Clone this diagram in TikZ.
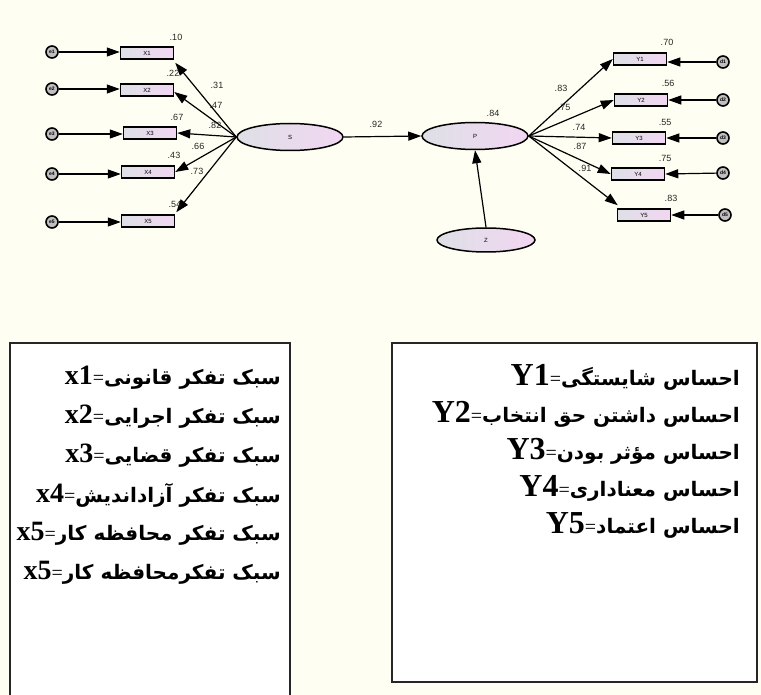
\documentclass[tikz,border=0pt]{standalone}
\usepackage{fontspec}
\setmainfont{Liberation Sans}
\newfontfamily\arabicfont[Script=Arabic]{DejaVu Sans}
\newfontfamily\lserif{Liberation Serif}
\TeXXeTstate=1
\usetikzlibrary{shapes.geometric,arrows.meta}
\definecolor{bgc}{RGB}{254,254,242}
\definecolor{boxL}{RGB}{222,224,230}
\definecolor{boxR}{RGB}{242,214,242}
\tikzset{
  arr/.style={-{Triangle[length=13pt,width=9pt]}, line width=1.2pt},
  obsbox/.style={draw, line width=1.5pt, minimum width=53pt, minimum height=12pt, inner sep=0pt,
     left color=boxL, right color=boxR, font=\fontsize{6}{6}\selectfont},
  latent/.style={draw, ellipse, line width=1.5pt, minimum width=106pt, minimum height=27pt, inner sep=0pt,
     left color=boxL, right color=boxR, font=\fontsize{6}{6}\selectfont},
  err/.style={draw, circle, line width=1.6pt, minimum size=12pt, inner sep=0pt, fill=black!25,
     font=\fontsize{5}{5}\selectfont\bfseries},
  coef/.style={font=\fontsize{9}{9}\selectfont, inner sep=0pt, text=black!85},
  legbox/.style={draw=black!85, line width=1.8pt, fill=white},
  legline/.style={anchor=east, inner sep=0pt},
}
\newcommand{\lat}[2]{{\fontsize{#1}{#1}\selectfont\lserif\bfseries #2}{\fontsize{20}{20}\selectfont\lserif=}}
\newcommand{\faset}{\fontsize{20}{20}\selectfont\arabicfont\bfseries}
\begin{document}
\begin{tikzpicture}[x=1pt,y=-1pt]
\useasboundingbox (0,0) rectangle (761,695);
\fill[bgc] (0,0) rectangle (761,695);

% latent variables
\node[latent] (S) at (290,137) {S};
\node[latent] (P) at (475,136) {P};
\node[latent, minimum width=98pt, minimum height=24pt] (Z) at (486,240) {Z};

% observed X
\node[obsbox] (X1) at (147,53) {X1};
\node[obsbox] (X2) at (147,90) {X2};
\node[obsbox] (X3) at (150,133) {X3};
\node[obsbox] (X4) at (148,172) {X4};
\node[obsbox] (X5) at (148,221) {X5};

% observed Y
\node[obsbox] (Y1) at (640,59) {Y1};
\node[obsbox] (Y2) at (641,100) {Y2};
\node[obsbox] (Y3) at (639,138) {Y3};
\node[obsbox] (Y4) at (638,174) {Y4};
\node[obsbox] (Y5) at (644,215) {Y5};

% error terms
\node[err] (e1) at (52,52) {e1};
\node[err] (e2) at (52,89) {e2};
\node[err] (e3) at (52,134) {e3};
\node[err] (e4) at (52,174) {e4};
\node[err] (e5) at (52,222) {e5};
\node[err] (d1) at (723,62) {d1};
\node[err] (d2) at (723,100) {d2};
\node[err] (d3) at (723,138) {d3};
\node[err] (d4) at (723,173) {d4};
\node[err] (d5) at (725,215) {d5};

% error arrows
\draw[arr] (e1) -- (X1.west |- e1);
\draw[arr] (e2) -- (X2.west |- e2);
\draw[arr] (e3) -- (X3.west |- e3);
\draw[arr] (e4) -- (X4.west |- e4);
\draw[arr] (e5) -- (X5.west |- e5);
\draw[arr] (d1) -- (Y1.east |- d1);
\draw[arr] (d2) -- (Y2.east);
\draw[arr] (d3) -- (Y3.east);
\draw[arr] (d4) -- (Y4.east);
\draw[arr] (d5) -- (Y5.east);

% S -> X
\draw[arr] (S.west) -- ([xshift=1pt,yshift=-3pt]X1.south east);
\draw[arr] (S.west) -- ([yshift=-2pt]X2.east);
\draw[arr] (S.west) -- (X3.east);
\draw[arr] (S.west) -- (X4.east);
\draw[arr] (S.west) -- ([xshift=1pt,yshift=2pt]X5.north east);

% P -> Y
\draw[arr] (P.east) -- (Y1.west);
\draw[arr] (P.east) -- (Y2.west);
\draw[arr] (P.east) -- (Y3.west);
\draw[arr] (P.east) -- (Y4.west);
\draw[arr] (P.east) -- ([xshift=1pt,yshift=3pt]Y5.north west);

% structural
\draw[arr] (S.east) -- (P.west);
\draw[arr] (Z.north) -- (P.south);

% coefficients
\node[coef] at (176,37) {.10};
\node[coef] at (173,73) {.22};
\node[coef] at (177,117) {.67};
\node[coef] at (174,155) {.43};
\node[coef] at (175,204) {.54};
\node[coef] at (217,85) {.31};
\node[coef] at (216,105) {.47};
\node[coef] at (215,125) {.82};
\node[coef] at (198,146) {.66};
\node[coef] at (197,171) {.73};
\node[coef] at (376,124) {.92};
\node[coef] at (493,113) {.84};
\node[coef] at (667,42) {.70};
\node[coef] at (668,83) {.56};
\node[coef] at (665,122) {.55};
\node[coef] at (665,158) {.75};
\node[coef] at (671,198) {.83};
\node[coef] at (561,88) {.83};
\node[coef] at (564,107) {.75};
\node[coef] at (579,127) {.74};
\node[coef] at (580,146) {.87};
\node[coef] at (585,168) {.91};

% legend boxes
\draw[legbox] (10,343) rectangle (290,700);
\draw[legbox] (392,343) rectangle (757,682);

\node[legline] (lx1) at (281,378) {\lat{28}{x1}{\faset\beginR سبک تفکر قانونی\endR}};
\node[legline] (lx2) at (281,417) {\lat{28}{x2}{\faset\beginR سبک تفکر اجرایی\endR}};
\node[legline] (lx3) at (281,456) {\lat{28}{x3}{\faset\beginR سبک تفکر قضایی\endR}};
\node[legline] (lx4) at (281,495) {\lat{28}{x4}{\faset\beginR سبک تفکر آزاداندیش\endR}};
\node[legline] (lx5) at (281,534) {\lat{28}{x5}{\faset\beginR سبک تفکر محافظه کار\endR}};
\node[legline] (lx6) at (281,573) {\lat{28}{x5}{\faset\beginR سبک تفکرمحافظه کار\endR}};

\node[legline] (ly1) at (740,377) {\lat{32}{Y1}{\faset\beginR احساس شایستگی\endR}};
\node[legline] (ly2) at (740,414) {\lat{32}{Y2}{\faset\beginR احساس داشتن حق انتخاب\endR}};
\node[legline] (ly3) at (740,451) {\lat{32}{Y3}{\faset\beginR احساس مؤثر بودن\endR}};
\node[legline] (ly4) at (740,488) {\lat{32}{Y4}{\faset\beginR احساس معناداری\endR}};
\node[legline] (ly5) at (740,525) {\lat{32}{Y5}{\faset\beginR احساس اعتماد\endR}};
\end{tikzpicture}
\end{document}
